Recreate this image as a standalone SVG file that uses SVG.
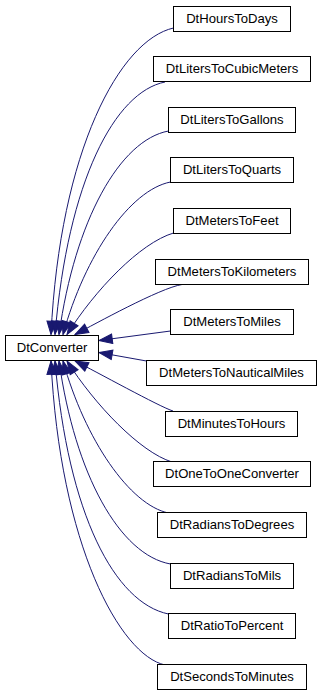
<svg xmlns="http://www.w3.org/2000/svg" width="323" height="696" viewBox="0 0 323 696">
<style>
.node rect{fill:#ffffff;stroke:#000000;stroke-width:1}
.node text{font-family:"Liberation Sans",Arial,sans-serif;font-size:13.1px;fill:#000000;text-anchor:middle}
.edge path{fill:none;stroke:#191970;stroke-width:1}
</style>
<defs>
<marker id="ah" markerWidth="13.3" markerHeight="9.4" refX="13.3" refY="4.7" orient="auto" markerUnits="userSpaceOnUse" viewBox="0 0 13.3 9.4" overflow="visible">
<path d="M0,0 L13.3,4.7 L0,9.4 z" fill="#191970" stroke="#191970" stroke-width="1"/>
</marker>
</defs>
<rect width="323" height="696" fill="#ffffff"/>
<g id="edges" class="edge">
<path marker-end="url(#ah)" d="M173.5,28 C120,40 60,150 51,334.5"/>
<path marker-end="url(#ah)" d="M165,82 C115,92 68,180 55,334.5"/>
<path marker-end="url(#ah)" d="M168.5,131 C120,140 75,220 59,334.5"/>
<path marker-end="url(#ah)" d="M170.5,182 C130,190 85,255 63,334.5"/>
<path marker-end="url(#ah)" d="M173.5,233 C140,243 95,290 67,334.5"/>
<path marker-end="url(#ah)" d="M182,284.5 C160,288 95,324 75,334.5"/>
<path marker-end="url(#ah)" d="M170.5,331 L99,340.5"/>
<path marker-end="url(#ah)" d="M146.5,361 L99,352.5"/>
<path marker-end="url(#ah)" d="M173,411 C160,407 95,371 75,361"/>
<path marker-end="url(#ah)" d="M172,462 C140,452 95,405 67,361"/>
<path marker-end="url(#ah)" d="M168.5,513 C130,505 85,440 63,361"/>
<path marker-end="url(#ah)" d="M170.5,564 C120,555 75,475 59,361"/>
<path marker-end="url(#ah)" d="M168.5,614 C115,603 68,515 55,361"/>
<path marker-end="url(#ah)" d="M165,665 C120,655 60,545 51,361"/>
</g>
<g id="DtConverter" class="node"><rect x="5.5" y="335.5" width="93" height="25"/><text x="52" y="351.5">DtConverter</text></g>
<g id="DtHoursToDays" class="node"><rect x="173.5" y="6.5" width="117" height="25"/><text x="232" y="22.5">DtHoursToDays</text></g>
<g id="DtLitersToCubicMeters" class="node"><rect x="153.5" y="56.5" width="157" height="25"/><text x="232" y="72.5">DtLitersToCubicMeters</text></g>
<g id="DtLitersToGallons" class="node"><rect x="168.5" y="107.5" width="127" height="25"/><text x="232" y="123.5">DtLitersToGallons</text></g>
<g id="DtLitersToQuarts" class="node"><rect x="170.5" y="157.5" width="123" height="25"/><text x="232" y="173.5">DtLitersToQuarts</text></g>
<g id="DtMetersToFeet" class="node"><rect x="173.5" y="208.5" width="117" height="25"/><text x="232" y="224.5">DtMetersToFeet</text></g>
<g id="DtMetersToKilometers" class="node"><rect x="155.5" y="259.5" width="153" height="25"/><text x="232" y="275.5">DtMetersToKilometers</text></g>
<g id="DtMetersToMiles" class="node"><rect x="170.5" y="309.5" width="123" height="25"/><text x="232" y="325.5">DtMetersToMiles</text></g>
<g id="DtMetersToNauticalMiles" class="node"><rect x="146.5" y="360.5" width="170" height="25"/><text x="231.5" y="376.5">DtMetersToNauticalMiles</text></g>
<g id="DtMinutesToHours" class="node"><rect x="165.5" y="411.5" width="132" height="25"/><text x="231.5" y="427.5">DtMinutesToHours</text></g>
<g id="DtOneToOneConverter" class="node"><rect x="153.5" y="461.5" width="157" height="25"/><text x="232" y="477.5">DtOneToOneConverter</text></g>
<g id="DtRadiansToDegrees" class="node"><rect x="157.5" y="512.5" width="149" height="25"/><text x="232" y="528.5">DtRadiansToDegrees</text></g>
<g id="DtRadiansToMils" class="node"><rect x="170.5" y="563.5" width="123" height="25"/><text x="232" y="579.5">DtRadiansToMils</text></g>
<g id="DtRatioToPercent" class="node"><rect x="168.5" y="613.5" width="127" height="25"/><text x="232" y="629.5">DtRatioToPercent</text></g>
<g id="DtSecondsToMinutes" class="node"><rect x="157.5" y="664.5" width="149" height="25"/><text x="232" y="680.5">DtSecondsToMinutes</text></g>
</svg>
